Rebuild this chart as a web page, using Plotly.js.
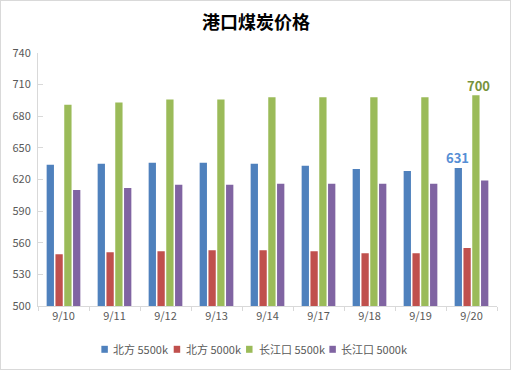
<!DOCTYPE html>
<html><head><meta charset="utf-8">
<script src="https://cdn.plot.ly/plotly-3.0.1.min.js"></script>
<style>
html,body{margin:0;padding:0;background:#fff;}
#wrap{position:relative;width:512px;height:370px;}
#chart{width:512px;height:370px;}
#frame{position:absolute;left:0;top:0;width:509px;height:368px;border:1px solid #d9d9d9;pointer-events:none;}
</style>
</head><body>
<div id="wrap"><div id="chart"></div><div id="frame"></div></div>
<script>
const categories = ['9/10','9/11','9/12','9/13','9/14','9/17','9/18','9/19','9/20'];
const seriesNames = ['北方 5500k','北方 5000k','长江口 5500k','长江口 5000k'];
const north5500 = [634, 635, 636, 636, 635, 633, 630, 628, 631];
const north5000 = [549, 551, 552, 553, 553, 552, 550, 550, 555];
const cjk5500   = [691, 693, 696, 696, 698, 698, 698, 698, 700];
const cjk5000   = [610, 612, 615, 615, 616, 616, 616, 616, 619];
const yTicks = [500, 530, 560, 590, 620, 650, 680, 710, 740];
const colors = ['#4F81BD','#C0504D','#9BBB59','#8064A2'];
const allSeries = [north5500, north5000, cjk5500, cjk5000];

const font = '"Noto Sans CJK SC", "Noto Sans", sans-serif';
const W = 512, H = 370;
const M = {l: 37.5, r: 14.5, t: 52.7, b: 64.3};
const pw = W - M.l - M.r, ph = H - M.t - M.b;
const px = x => (x - M.l) / pw;
const py = y => (H - M.b - y) / ph;

const traces = allSeries.map((vals, i) => ({
  type: 'bar', name: seriesNames[i], x: categories, y: vals,
  marker: {color: colors[i]}, hoverinfo: 'skip', showlegend: false
}));

// custom compact legend (Excel style)
const legSquareX = [101, 173.5, 246, 329.5];
const legTextX = [111, 184, 257, 339.5];
const legY = 349;
const shapes = seriesNames.map((n, i) => ({
  type: 'rect', xref: 'paper', yref: 'paper',
  x0: px(legSquareX[i]), x1: px(legSquareX[i] + 6.5),
  y0: py(legY - 3.5), y1: py(legY + 3.5),
  fillcolor: colors[i], line: {width: 0}
}));
const legendAnn = seriesNames.map((n, i) => ({
  xref: 'paper', yref: 'paper', x: px(legTextX[i]), y: py(legY),
  xanchor: 'left', yanchor: 'middle', showarrow: false, text: n,
  font: {size: 11, color: '#595959'}
}));

const last = categories.length - 1;
const layout = {
  width: W, height: H,
  margin: {l: M.l, r: M.r, t: M.t, b: M.b, pad: 0},
  paper_bgcolor: '#fff', plot_bgcolor: '#fff',
  font: {family: font, size: 11, color: '#595959'},
  title: {text: '<b>港口煤炭价格</b>', x: 0.5, xanchor: 'center', y: 0.94, yanchor: 'middle',
          font: {family: font, size: 18, color: '#000'}},
  barmode: 'group', bargap: 0.31, bargroupgap: 0.17,
  showlegend: false,
  xaxis: {type: 'category', showline: true, linecolor: '#d9d9d9', linewidth: 1,
          ticks: 'outside', tickson: 'boundaries', ticklen: 4, tickcolor: '#d9d9d9',
          showgrid: false, zeroline: false, tickfont: {size: 11, color: '#595959'}, automargin: false},
  yaxis: {range: [500, 740], tickvals: yTicks, showline: true, linecolor: '#d9d9d9', linewidth: 1,
          ticks: 'inside', ticklen: 5, tickcolor: '#d9d9d9', showgrid: false, zeroline: false,
          tickfont: {size: 11, color: '#595959'}, ticklabelstandoff: 4, automargin: false},
  shapes: shapes,
  annotations: [
    {x: categories[last], y: north5500[last], text: '<b>' + north5500[last] + '</b>', showarrow: false,
     xshift: -14, yanchor: 'bottom', yshift: -1, font: {size: 13, color: '#558ED5'}},
    {x: categories[last], y: cjk5500[last], text: '<b>' + cjk5500[last] + '</b>', showarrow: false,
     xshift: 7, yanchor: 'bottom', yshift: -2, font: {size: 13, color: '#77933C'}}
  ].concat(legendAnn)
};
Plotly.newPlot('chart', traces, layout, {displayModeBar: false, staticPlot: true});
</script>
</body></html>
